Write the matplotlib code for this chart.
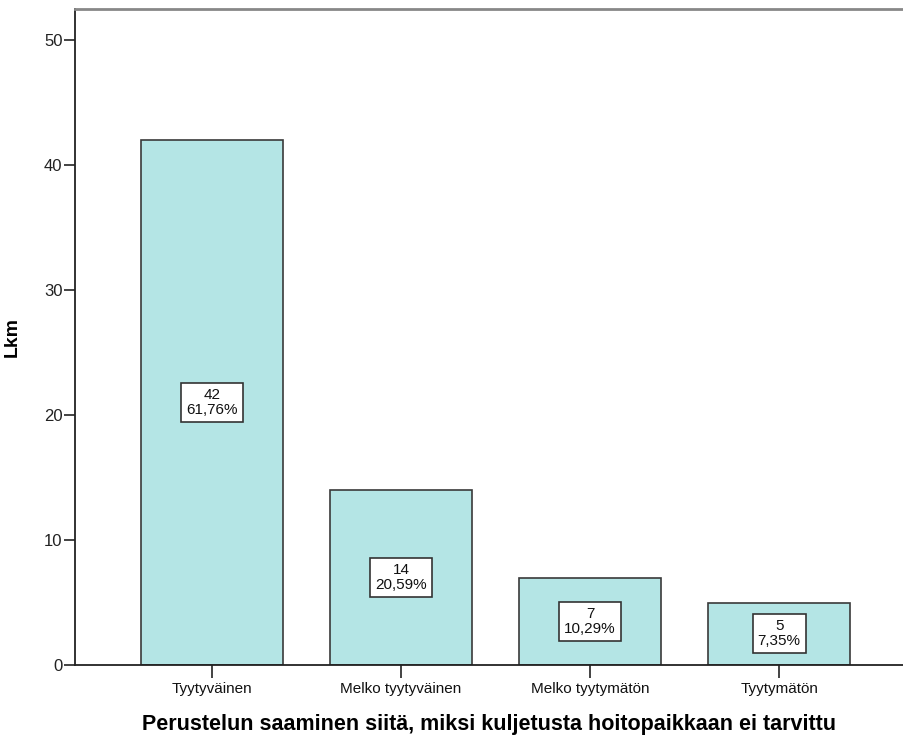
import matplotlib
matplotlib.use("Agg")
import matplotlib.pyplot as plt

categories = ["Tyytyväinen", "Melko tyytyväinen", "Melko tyytymätön", "Tyytymätön"]
counts = [42, 14, 7, 5]
percents = ["61,76%", "20,59%", "10,29%", "7,35%"]
yticks = [0, 10, 20, 30, 40, 50]

plt.rcParams["font.family"] = ["Liberation Sans", "DejaVu Sans"]

fig = plt.figure(figsize=(9.04, 7.35), dpi=100)
ax = fig.add_axes([75 / 904, 70 / 735, 1 - 75 / 904, (665 - 9) / 735])

x = list(range(len(categories)))
ax.bar(x, counts, width=0.75, color="#b4e5e5", edgecolor="#3a3a3a", linewidth=1.2, zorder=2)

for xi, c, p in zip(x, counts, percents):
    ax.text(xi, c / 2, f"{c}\n{p}", ha="center", va="center", fontsize=11,
            linespacing=1.1, color="#111111", zorder=3,
            bbox=dict(boxstyle="square,pad=0.32", facecolor="white", edgecolor="#333333", linewidth=1.2))

ax.set_xlim(-0.725, 3.66)
ax.set_ylim(0, 52.5)
ax.set_yticks(yticks)
ax.set_xticks(x)
ax.set_xticklabels(categories)
ax.tick_params(axis="y", direction="out", length=8, width=1.2, labelsize=12, pad=1, color="#222222",
               labelcolor="#222222")
ax.tick_params(axis="x", direction="out", length=9, width=1.2, labelsize=11, pad=3, color="#222222",
               labelcolor="#111111")

for side in ["left", "bottom"]:
    ax.spines[side].set_color("#222222")
    ax.spines[side].set_linewidth(1.3)
ax.spines["top"].set_color("#888888")
ax.spines["top"].set_linewidth(2)
ax.spines["right"].set_visible(False)

ax.set_ylabel("Lkm", fontsize=14, fontweight="bold")
ax.yaxis.set_label_coords(-0.066, 0.5)
ax.set_xlabel("Perustelun saaminen siitä, miksi kuljetusta hoitopaikkaan ei tarvittu",
              fontsize=15.5, fontweight="bold", labelpad=13)

fig.savefig("out.png", dpi=100)
